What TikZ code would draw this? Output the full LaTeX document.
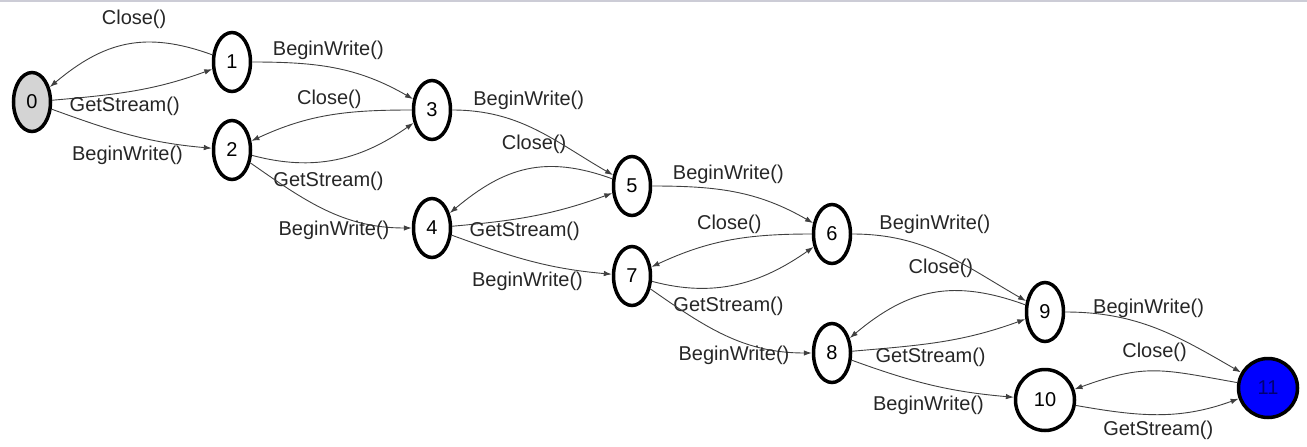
\documentclass[tikz,border=0pt]{standalone}
\usepackage{fontspec}
\setmainfont{Liberation Sans}
\usetikzlibrary{arrows.meta,shapes.geometric}

\tikzset{
  state/.style={ellipse, draw, line width=3.5pt, minimum width=37pt, minimum height=59pt, inner sep=0pt},
  trans/.style={-{Latex[length=8pt,width=5.5pt]}, line width=0.9pt, draw=black!75},
  lbl/.style={inner sep=0pt, text=black!85},
  arcback/.style={out=160, in=40, looseness=1.1},
  flatback/.style={out=180, in=25}
}

\begin{document}
\begin{tikzpicture}[x=1pt, y=1pt, font=\fontsize{20}{24}\selectfont]
  \useasboundingbox (0,0) rectangle (1307,-447);
  \fill[blue!20!black!20] (0,0) rectangle (1307,-2);

  % states
  \node[state, fill=black!17] (s0) at (32,-102) {0};
  \node[state] (s1) at (232,-62) {1};
  \node[state] (s2) at (232,-150) {2};
  \node[state] (s3) at (432,-110) {3};
  \node[state] (s4) at (432,-228) {4};
  \node[state] (s5) at (632,-186) {5};
  \node[state] (s6) at (832,-234) {6};
  \node[state] (s7) at (632,-276) {7};
  \node[state] (s8) at (832,-353) {8};
  \node[state] (s9) at (1045,-312) {9};
  \node[state, minimum width=59pt, minimum height=61pt] (s10) at (1045,-400) {10};
  \node[state, circle, minimum size=59pt, fill=blue, text=blue!45!black] (s11) at (1268,-388) {11};

  % blocks whose Close() arcs up
  \foreach \a/\b/\c/\d in {0/1/2/3, 4/5/7/6, 8/9/10/11} {
    \draw[trans] (s\b) to[arcback] node[lbl, pos=.45, above=14pt] (c\b) {Close()} (s\a);
    \draw[trans] (s\a) to[out=5, in=200] node[lbl, pos=.44, below=4pt] (g\a) {GetStream()} (s\b);
    \draw[trans] (s\a) to[out=-20, in=175] node[lbl, pos=.48, below=11pt] (w\a) {BeginWrite()} (s\c);
    \draw[trans] (s\b) to[out=0, in=150] node[lbl, pos=.45, above=7pt] (w\b) {BeginWrite()} (s\d);
  }

  % blocks whose Close() runs flat
  \foreach \a/\b/\c/\d in {2/3/4/5, 7/6/8/9} {
    \draw[trans] (s\b) to[flatback] node[lbl, above=6pt] (c\b) {Close()} (s\a);
    \draw[trans] (s\a) to[out=-15, in=215] node[lbl, pos=.45, below=11pt] (g\a) {GetStream()} (s\b);
    \draw[trans] (s\a) to[out=-35, in=180] node[lbl, pos=.55, below=7pt] (w\a) {BeginWrite()} (s\c);
    \draw[trans] (s\b) to[out=0, in=150] node[lbl, pos=.45, above=16pt] (w\b) {BeginWrite()} (s\d);
  }

  % last pair
  \draw[trans] (s11) to[out=170, in=20, looseness=1.2] node[lbl, above=9pt] (c11) {Close()} (s10);
  \draw[trans] (s10) to[out=-10, in=200] node[lbl, below=6pt] (g10) {GetStream()} (s11);
\end{tikzpicture}
\end{document}
